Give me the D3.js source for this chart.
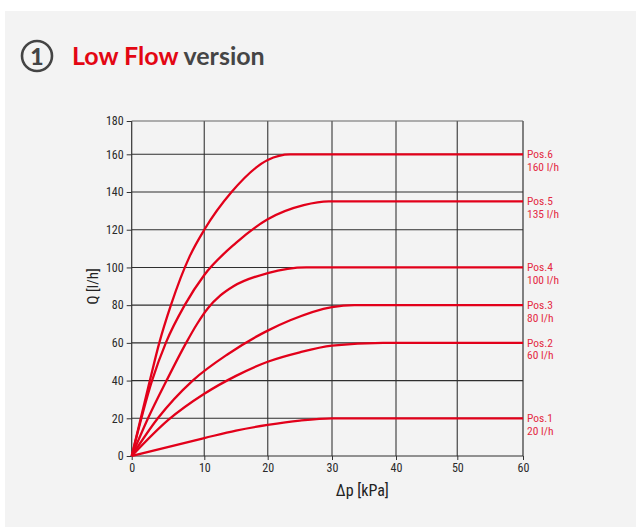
<!DOCTYPE html>
<html>
<head>
<meta charset="utf-8">
<script src="https://cdn.jsdelivr.net/npm/d3@7"></script>
<style>
  html, body { margin: 0; padding: 0; background: #ffffff; }
  svg { display: block; }
</style>
</head>
<body>
<svg id="chart" width="636" height="527"></svg>
<script>
// ---- data ----
const xTicks = [0, 10, 20, 30, 40, 50, 60];
const yTicks = [0, 20, 40, 60, 80, 100, 120, 140, 160, 180];
const seriesNames = ["Pos.1", "Pos.2", "Pos.3", "Pos.4", "Pos.5", "Pos.6"];
const seriesFlows = ["20 l/h", "60 l/h", "80 l/h", "100 l/h", "135 l/h", "160 l/h"];
const pos1 = [[0,0],[10,9.5],[15,13.5],[20,16.5],[25,18.8],[30,20],[60,20]];
const pos2 = [[0,0],[5,19],[10,33],[15,42.5],[20,50],[25,55],[30,58.5],[38,60],[60,60]];
const pos3 = [[0,0],[3.6,20],[8.4,40],[13.7,54],[20,66.5],[23.5,72],[30,79],[33.5,80],[60,80]];
const pos4 = [[0,0],[2.25,20],[4.8,40],[7.5,60],[9,70],[10.6,78.5],[12.5,85],[14.6,90],[20,97],[26,100],[60,100]];
const pos5 = [[0,0],[2.8,40],[4.7,60],[7.3,80],[10,96],[15,113],[20,125.5],[25.6,133],[29.5,135],[60,135]];
const pos6 = [[0,0],[2.5,40],[3.8,60],[5.4,80],[8,106],[10,120],[14.3,140],[20,157],[23.5,160],[60,160]];
const seriesData = [pos1, pos2, pos3, pos4, pos5, pos6];
const xTitle = "Δp [kPa]";
const yTitle = "Q [l/h]";

// ---- drawing ----
const svg = d3.select("#chart");
const RED = "#e2001a";
const LABEL_RED = "#e42a44";
const NARROW = "'Liberation Sans Narrow', 'Roboto Condensed', Roboto, sans-serif";

svg.append("rect").attr("x", 5).attr("y", 11).attr("width", 631).attr("height", 516).attr("fill", "#f3f3f3");

// header
svg.append("circle").attr("cx", 37).attr("cy", 56).attr("r", 15)
  .attr("fill", "none").attr("stroke", "#444").attr("stroke-width", 2.6);
svg.append("text").attr("x", 37).attr("y", 64.5).attr("text-anchor", "middle")
  .attr("font-family", "Lato, 'Open Sans', sans-serif").attr("font-weight", 900)
  .attr("font-size", 23).attr("fill", "#444").text("1");
const title = svg.append("text").attr("x", 72).attr("y", 65)
  .attr("font-family", "Lato, 'Open Sans', sans-serif").attr("font-weight", 700)
  .attr("font-size", 25);
title.append("tspan").attr("fill", "#e30613").text("Low Flow");
title.append("tspan").attr("fill", "#454545").text(" version");

// scales (the source chart grid is slightly irregular)
const x = d3.scaleLinear().domain(xTicks).range([131.7, 204.3, 267.7, 332, 396, 457.3, 523]);
const y = d3.scaleLinear().domain([0, 160, 180]).range([456, 154.3, 121]);

const g = svg.append("g");

// grid
g.selectAll(".vg").data(xTicks).enter().append("line")
  .attr("x1", d => x(d)).attr("x2", d => x(d))
  .attr("y1", y(0)).attr("y2", y(180))
  .attr("stroke", d => (d === 0 || d === 60) ? "#333" : "#5e5e5e")
  .attr("stroke-width", d => (d === 0 || d === 60) ? 1.2 : 1.4);
g.selectAll(".hg").data(yTicks).enter().append("line")
  .attr("x1", x(0)).attr("x2", x(60))
  .attr("y1", d => y(d)).attr("y2", d => y(d))
  .attr("stroke", d => d === 180 ? "#666" : "#2e2e2e")
  .attr("stroke-width", 1.1);

// axes
const xAxis = d3.axisBottom(x).tickValues(xTicks).tickSize(4).tickPadding(3);
const yAxis = d3.axisLeft(y).tickValues(yTicks).tickSize(5).tickPadding(3);
const gx = g.append("g").attr("transform", `translate(0,${y(0)})`).call(xAxis);
const gy = g.append("g").attr("transform", `translate(${x(0)},0)`).call(yAxis);
[gx, gy].forEach(a => {
  a.select(".domain").remove();
  a.selectAll(".tick line").attr("stroke", "#333");
  a.selectAll("text").attr("font-family", NARROW).attr("font-size", 12).attr("fill", "#2a2a2a");
});

// curves
const line = d3.line().x(d => x(d[0])).y(d => y(d[1])).curve(d3.curveMonotoneX);
g.selectAll(".curve").data(seriesData).enter().append("path")
  .attr("d", line).attr("fill", "none").attr("stroke", RED)
  .attr("stroke-width", 2.3).attr("stroke-linejoin", "round");

// right labels
seriesData.forEach((s, i) => {
  const last = s[s.length - 1];
  const yy = y(last[1]);
  g.append("text").attr("x", x(60) + 4).attr("y", yy + 4)
    .attr("font-family", NARROW).attr("font-size", 11.5).attr("fill", LABEL_RED)
    .text(seriesNames[i]);
  g.append("text").attr("x", x(60) + 4).attr("y", yy + 16.5)
    .attr("font-family", NARROW).attr("font-size", 11.5).attr("fill", LABEL_RED)
    .text(seriesFlows[i]);
});

// axis titles
svg.append("text").attr("x", (x(0) + x(60)) / 2 + 35).attr("y", 496)
  .attr("text-anchor", "middle").attr("font-family", NARROW)
  .attr("font-size", 16).attr("fill", "#222").text(xTitle);
svg.append("text").attr("transform", `translate(98,${y(90)}) rotate(-90)`)
  .attr("text-anchor", "middle").attr("font-family", NARROW)
  .attr("font-size", 15).attr("fill", "#222").text(yTitle);
</script>
</body>
</html>
